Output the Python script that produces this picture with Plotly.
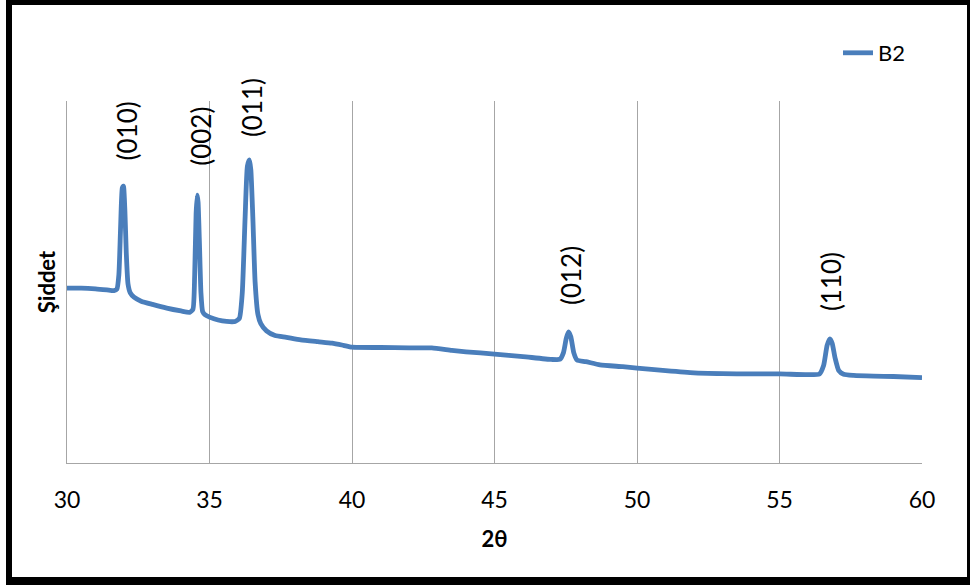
import plotly.graph_objects as go

# --- data ---
two_theta = [30, 30.5, 31, 31.4, 31.65,
             31.75, 31.82, 31.88, 31.94, 31.98, 32.03, 32.08, 32.14, 32.22, 32.35,
             32.6, 33, 33.5, 34, 34.3,
             34.42, 34.48, 34.53, 34.57, 34.6, 34.65, 34.7, 34.76, 34.85, 35,
             35.3, 35.6, 35.9, 36.05,
             36.15, 36.25, 36.33, 36.4, 36.45, 36.52, 36.6, 36.7, 36.8, 37,
             37.3, 37.7, 38.2, 38.8, 39.3, 39.7, 40, 41, 42, 42.8, 43.5, 44, 45, 46, 47, 47.3,
             47.42, 47.52, 47.6, 47.68, 47.78, 47.9, 48.2, 48.7,
             49.5, 50, 51, 52, 53, 54, 55, 56, 56.4,
             56.55, 56.67, 56.77, 56.85, 56.95, 57.08, 57.25, 57.6, 58.3, 59, 60]
intensity = [483, 483, 481, 478, 476,
             480, 520, 650, 760, 765, 700, 580, 495, 470, 458,
             447, 438, 428, 420, 416,
             425, 520, 690, 740, 720, 600, 470, 418, 409, 403,
             395, 391, 391, 400,
             470, 680, 820, 837, 810, 680, 500, 410, 385, 365,
             352, 347, 340, 335, 331, 325, 320, 319, 318, 318, 311, 307, 301, 294, 286, 287,
             305, 345, 362, 348, 305, 284, 280, 271,
             266, 262, 255, 249, 247, 246, 246, 244, 246,
             270, 325, 343, 330, 290, 255, 245, 242, 240, 239, 236]

peak_labels = ["(010)", "(002)", "(011)", "(012)", "(110)"]
label_x = [32.12, 34.69, 36.49, 47.68, 56.81]
label_y = [917, 903, 983, 519, 500]

x_ticks = [30, 35, 40, 45, 50, 55, 60]

# --- geometry helpers (pixel -> paper) ---
W, H = 970, 585
L, R, T, B = 67, 922, 101, 463
pw, ph = R - L, B - T


def px(x):
    return (x - L) / pw


def py(y):
    return (B - y) / ph


BLUE = "#4a7ebb"
GRID = "#a6a6a6"
FONT = "Lato"

fig = go.Figure()
fig.add_trace(go.Scatter(
    x=two_theta, y=intensity, mode="lines", name="B2",
    line=dict(color=BLUE, width=4.8, shape="spline", smoothing=0.5),
))

for t, x, y in zip(peak_labels, label_x, label_y):
    fig.add_annotation(x=x, y=y, xref="x", yref="y", text=t, showarrow=False,
                       textangle=-90, xanchor="center", yanchor="middle",
                       font=dict(family=FONT, size=26, color="#000000"))

# outer frame
fig.add_shape(type="rect", xref="paper", yref="paper", layer="below",
              x0=px(6), x1=px(970), y0=py(585), y1=py(0),
              fillcolor="#000000", line=dict(width=0))
fig.add_shape(type="rect", xref="paper", yref="paper", layer="below",
              x0=px(12), x1=px(967), y0=py(577), y1=py(5),
              fillcolor="#ffffff", line=dict(width=0))

fig.update_layout(
    width=W, height=H, autosize=False,
    margin=dict(l=L, r=W - R, t=T, b=H - B, pad=0),
    paper_bgcolor="#ffffff", plot_bgcolor="rgba(0,0,0,0)",
    font=dict(family=FONT, size=23, color="#000000"),
    showlegend=True,
    legend=dict(x=px(838), y=py(53), xanchor="left", yanchor="middle",
                bgcolor="rgba(0,0,0,0)", font=dict(family=FONT, size=22),
                borderwidth=0),
    xaxis=dict(range=[30, 60], tickvals=x_ticks, ticks="", showgrid=True,
               gridcolor=GRID, gridwidth=1, showline=True, linecolor=GRID,
               linewidth=1, zeroline=False, tickfont=dict(size=23),
               ticklabelstandoff=16,
               title=dict(text="<b>2θ</b>", font=dict(size=22), standoff=20)),
    yaxis=dict(range=[0, 1000], showticklabels=False, ticks="", showgrid=False,
               showline=True, linecolor=GRID, linewidth=1, zeroline=False,
               title=dict(text="<b>Şiddet</b>", font=dict(size=22), standoff=4)),
)

fig.write_html("out.html")
